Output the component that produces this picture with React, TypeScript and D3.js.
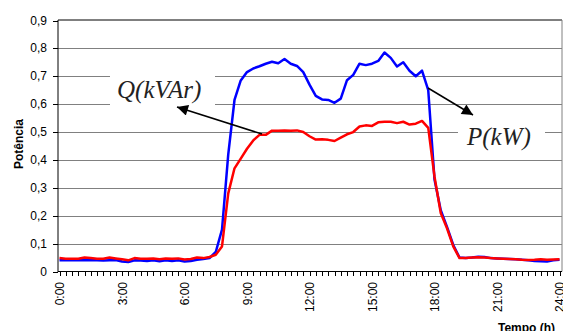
import React from "react";
import * as d3 from "d3";

const W = 563;
const H = 331;

// time in hours, 0.3 h step (81 points)
const times: number[] = d3.range(0, 81).map((i) => +(i * 0.3).toFixed(2));

const pValues: number[] = [
  0.040, 0.040, 0.040, 0.040, 0.041, 0.040, 0.040, 0.039, 0.040, 0.041,
  0.036, 0.034, 0.040, 0.039, 0.038, 0.040, 0.037, 0.040, 0.038, 0.040,
  0.036, 0.038, 0.042, 0.045, 0.048,
  0.070, 0.150, 0.420, 0.615, 0.685, 0.715, 0.728, 0.736, 0.745, 0.752,
  0.747, 0.762, 0.745, 0.737, 0.715, 0.670, 0.630, 0.617, 0.615, 0.605,
  0.620, 0.686, 0.705, 0.745, 0.740, 0.745, 0.755, 0.785, 0.766, 0.735,
  0.750, 0.720, 0.700, 0.720, 0.650, 0.330, 0.220, 0.160, 0.095,
  0.050, 0.048, 0.050, 0.053, 0.052, 0.048, 0.047, 0.046, 0.045, 0.044,
  0.042, 0.040, 0.038, 0.037, 0.036, 0.040, 0.042,
];

const qValues: number[] = [
  0.048, 0.046, 0.046, 0.046, 0.050, 0.048, 0.046, 0.046, 0.050, 0.047,
  0.044, 0.040, 0.048, 0.046, 0.046, 0.047, 0.044, 0.047, 0.046, 0.047,
  0.043, 0.045, 0.050, 0.048, 0.052,
  0.060, 0.090, 0.280, 0.370, 0.405, 0.440, 0.470, 0.490, 0.490, 0.505,
  0.505, 0.506, 0.505, 0.506, 0.500, 0.485, 0.473, 0.474, 0.472, 0.468,
  0.480, 0.492, 0.500, 0.520, 0.524, 0.522, 0.535, 0.537, 0.537, 0.532,
  0.537, 0.527, 0.530, 0.540, 0.515, 0.340, 0.210, 0.155, 0.090,
  0.048, 0.048, 0.050, 0.051, 0.050, 0.048, 0.047, 0.046, 0.045, 0.044,
  0.042, 0.041, 0.042, 0.044, 0.042, 0.043, 0.044,
];

const yTicks: number[] = [0, 0.1, 0.2, 0.3, 0.4, 0.5, 0.6, 0.7, 0.8, 0.9];
const xLabels: string[] = ["0:00", "3:00", "6:00", "9:00", "12:00", "15:00", "18:00", "21:00", "24:00"];
const xLabelHours: number[] = [0, 3, 6, 9, 12, 15, 18, 21, 24];

const FONT = "'Liberation Sans', Arial, sans-serif";
const SERIF = "'Liberation Serif', 'Times New Roman', serif";

export default function App() {
  const x = d3.scaleLinear().domain([0, 24]).range([59.5, 559.5]);
  const y = d3.scaleLinear().domain([0, 0.9]).range([271.5, 20.5]);
  const plotLeft = 58;
  const plotRight = 562;

  const line = d3
    .line<number>()
    .x((_, i) => x(times[i]))
    .y((d) => y(d));

  const fmt = (v: number) => (v === 0 ? "0" : v.toFixed(1).replace(".", ","));

  return (
    <svg
      width={W}
      height={H}
      style={{ position: "absolute", left: 0, top: 0, background: "#fff" }}
    >
      <defs>
        <marker
          id="ah"
          viewBox="0 0 10 10"
          refX="10"
          refY="5"
          markerWidth="16"
          markerHeight="11"
          markerUnits="userSpaceOnUse"
          orient="auto"
        >
          <path d="M0,0 L10,5 L0,10 Z" fill="#000" />
        </marker>
      </defs>
      <rect x={0} y={0} width={W} height={H} fill="#fff" />
      {/* gridlines */}
      {yTicks.slice(1, -1).map((t) => (
        <line
          key={t}
          x1={plotLeft}
          x2={plotRight}
          y1={Math.round(y(t)) + 0.5}
          y2={Math.round(y(t)) + 0.5}
          stroke="#808080"
          strokeWidth={1}
        />
      ))}
      {/* plot border */}
      <line x1={plotLeft} x2={plotRight} y1={20} y2={20} stroke="#000" strokeWidth={1} />
      <line x1={plotRight} x2={plotRight} y1={20} y2={271.5} stroke="#808080" strokeWidth={1} />
      {/* y ticks and labels */}
      {yTicks.map((t) => (
        <g key={"yt" + t}>
          <line x1={53} x2={plotLeft} y1={Math.round(y(t)) + 0.5} y2={Math.round(y(t)) + 0.5} stroke="#000" />
          <text
            x={47}
            y={y(t) + 4}
            textAnchor="end"
            fontFamily={FONT}
            fontSize={12}
            fill="#000"
          >
            {fmt(t)}
          </text>
        </g>
      ))}
      {/* x ticks */}
      {times.map((t, i) => (
        <line
          key={"xt" + i}
          x1={Math.round(x(t)) + 0.5}
          x2={Math.round(x(t)) + 0.5}
          y1={271.5}
          y2={276}
          stroke="#000"
          strokeWidth={1}
        />
      ))}
      {xLabels.map((lab, i) => (
        <text
          key={lab}
          transform={`translate(${x(xLabelHours[i]) + 4.5},282) rotate(-90)`}
          textAnchor="end"
          fontFamily={FONT}
          fontSize={12}
          fill="#000"
        >
          {lab}
        </text>
      ))}
      {/* axis titles */}
      <text
        transform="translate(22.5,144) rotate(-90)"
        textAnchor="middle"
        fontFamily={FONT}
        fontSize={12}
        fontWeight="bold"
        fill="#000"
      >
        Potência
      </text>
      <text x={498} y={332} fontFamily={FONT} fontSize={12} fontWeight="bold" fill="#000">
        Tempo (h)
      </text>
      {/* label boxes */}
      <rect x={110} y={64} width={105} height={48} fill="#fff" />
      <rect x={458} y={112} width={87} height={42} fill="#fff" />
      <text x={117} y={98} fontFamily={SERIF} fontStyle="italic" fontSize={25} fill="#222">
        Q(kVAr)
      </text>
      <text x={467} y={145} fontFamily={SERIF} fontStyle="italic" fontSize={25} fill="#222">
        P(kW)
      </text>
      {/* data lines */}
      <path d={line(pValues) || ""} fill="none" stroke="#0000ff" strokeWidth={2.5} strokeLinejoin="round" />
      <path d={line(qValues) || ""} fill="none" stroke="#ff0000" strokeWidth={2.5} strokeLinejoin="round" />
      {/* axes */}
      <line x1={plotLeft} x2={plotLeft} y1={20} y2={272} stroke="#000" strokeWidth={1} />
      <line x1={plotLeft} x2={plotRight} y1={271.5} y2={271.5} stroke="#000" strokeWidth={1} />
      {/* arrows */}
      <line x1={262} y1={134} x2={177} y2={107} stroke="#000" strokeWidth={1.5} markerEnd="url(#ah)" />
      <line x1={428} y1={88} x2={473} y2={115} stroke="#000" strokeWidth={1.5} markerEnd="url(#ah)" />
    </svg>
  );
}
